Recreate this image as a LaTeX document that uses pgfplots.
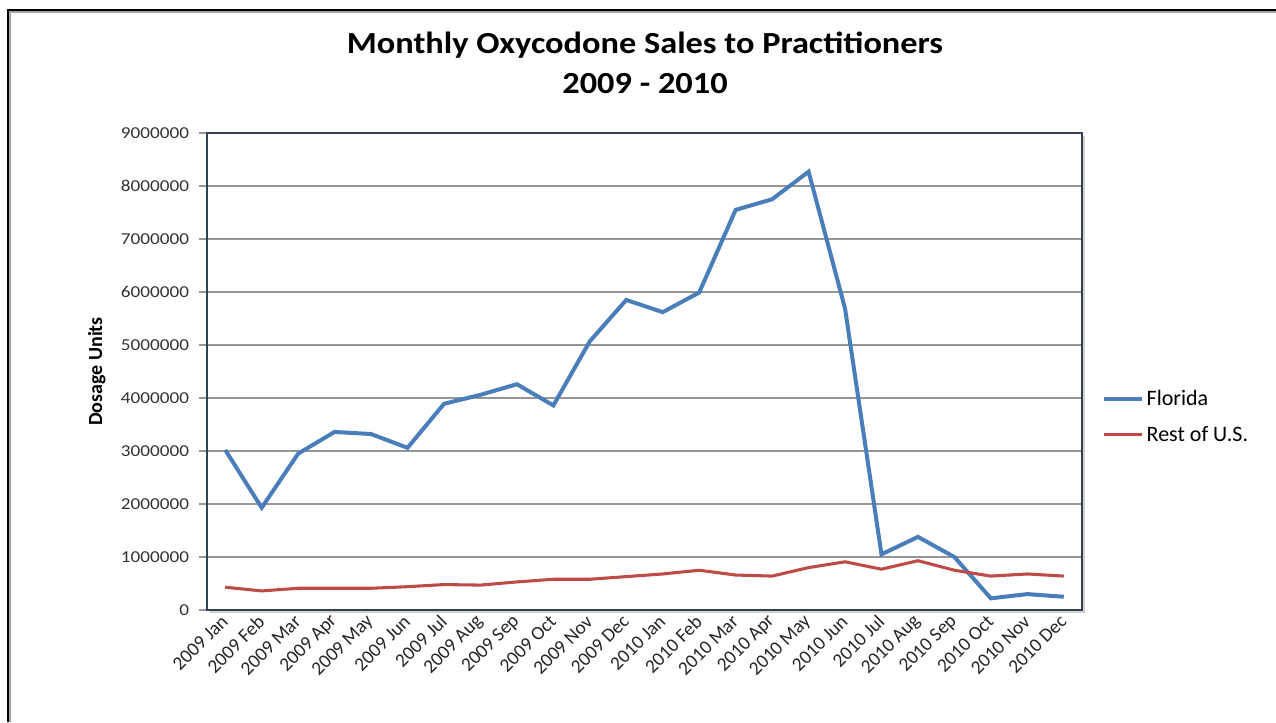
\documentclass[border=0pt]{standalone}
\usepackage{pgfplots}
\pgfplotsset{compat=1.18}
\usepackage{fontspec}
\setmainfont{Carlito}
\usetikzlibrary{shadows}
\definecolor{flblue}{RGB}{74,126,187}
\definecolor{usred}{RGB}{190,75,72}
\definecolor{axisline}{RGB}{52,64,84}
\definecolor{gridgray}{RGB}{150,150,150}

\pgfplotstableread{
x florida rest
0 3020000 430000
1 1930000 360000
2 2950000 410000
3 3360000 410000
4 3320000 410000
5 3060000 440000
6 3890000 480000
7 4060000 470000
8 4260000 530000
9 3860000 580000
10 5070000 580000
11 5850000 630000
12 5620000 680000
13 5990000 750000
14 7550000 660000
15 7750000 640000
16 8270000 800000
17 5690000 910000
18 1050000 770000
19 1380000 930000
20 1000000 750000
21 220000 640000
22 300000 680000
23 250000 640000
}\datatable

\begin{document}
\begin{tikzpicture}
\useasboundingbox (0,0) rectangle (957pt,541.5pt);
\fill[white] (0,0) rectangle (957pt,541.5pt);
% outer frame
\draw[gray!70, line width=1.5pt] (7.6pt,0) -- (7.6pt,532.4pt) -- (957pt,532.4pt);
\draw[black, line width=2pt] (6pt,0) -- (6pt,534pt) -- (957pt,534pt);
% title
\node[font=\fontsize{23}{27}\selectfont\bfseries, xscale=1.12] at (483.75pt,507.5pt) {Monthly Oxycodone Sales to Practitioners};
\node[font=\fontsize{23}{27}\selectfont\bfseries, xscale=1.12] at (483.75pt,478.5pt) {2009 - 2010};
\begin{axis}[
  at={(155.25pt,84pt)}, anchor=south west,
  scale only axis, width=656.25pt, height=357.75pt,
  xmin=-0.5, xmax=23.5, ymin=0, ymax=9000000,
  scaled y ticks=false,
  xtick={0,...,23},
  xticklabels={2009 Jan,2009 Feb,2009 Mar,2009 Apr,2009 May,2009 Jun,2009 Jul,2009 Aug,2009 Sep,2009 Oct,2009 Nov,2009 Dec,2010 Jan,2010 Feb,2010 Mar,2010 Apr,2010 May,2010 Jun,2010 Jul,2010 Aug,2010 Sep,2010 Oct,2010 Nov,2010 Dec},
  ytick={0,1000000,2000000,3000000,4000000,5000000,6000000,7000000,8000000,9000000},
  yticklabels={0,1000000,2000000,3000000,4000000,5000000,6000000,7000000,8000000,9000000},
  ytick pos=left,
  x tick style={draw=none},
  y tick style={gridgray, line width=0.8pt},
  tick align=outside, major tick length=6pt,
  ymajorgrids, major grid style={gridgray, line width=0.8pt},
  axis line style={axisline, line width=1.2pt},
  axis background/.style={fill=white, drop shadow={shadow xshift=2pt, shadow yshift=-2pt, opacity=0.35}},
  yticklabel style={font=\fontsize{12.5}{14}\selectfont, xscale=1.15, text=black!80, xshift=-3pt},
  xticklabel style={font=\fontsize{14.5}{16}\selectfont, rotate=45, anchor=east, text=black!85, xshift=3pt},
  ylabel={Dosage Units},
  ylabel style={font=\fontsize{15}{18}\selectfont\bfseries, at={(axis description cs:-0.126,0.5)}, anchor=center},
  legend style={at={(1.018,0.405)}, anchor=west, draw=none, fill=none, font=\fontsize{16.5}{19}\selectfont, row sep=10pt},
  legend cell align=left,
  legend image code/.code={\draw[#1] (0pt,0pt) -- (28.5pt,0pt);},
]
\addplot[flblue, line width=3pt] table[x=x, y=florida] {\datatable};
\addlegendentry{Florida}
\addplot[usred, line width=2.3pt] table[x=x, y=rest] {\datatable};
\addlegendentry{Rest of U.S.}
\end{axis}
\end{tikzpicture}
\end{document}
